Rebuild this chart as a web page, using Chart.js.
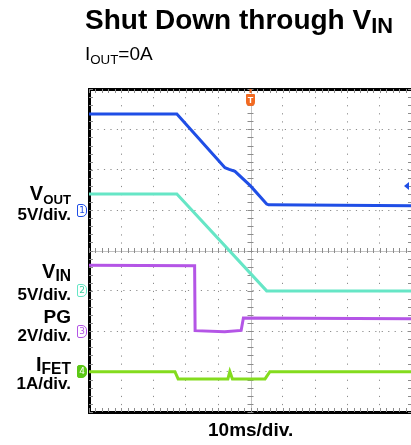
<!DOCTYPE html>
<html>
<head>
<meta charset="utf-8">
<script src="https://cdn.jsdelivr.net/npm/chart.js@4.4.0/dist/chart.umd.min.js"></script>
<style>
html, body { margin:0; padding:0; background:#fff; overflow:hidden; }
#wrap { position:relative; width:411px; height:445px; overflow:hidden; font-family:"Liberation Sans", Arial, Helvetica, sans-serif; color:#000; }
#scope { position:absolute; left:0; top:0; }
.t { position:absolute; white-space:nowrap; line-height:1; }
.lbl { position:absolute; right:340px; text-align:right; font-weight:bold; line-height:1; white-space:nowrap; }
sub { font-size:0.66em; vertical-align:baseline; position:relative; top:0.28em; }
.mk { position:absolute; left:77px; width:8px; height:11px; font-size:9px; line-height:11px; text-align:center; border:1px solid; border-radius:2px 5px 5px 2px; background:#fff; font-family:"DejaVu Sans", sans-serif; }
#trig { position:absolute; width:9px; height:12px; background:#f26a21; color:#fff; font-size:9px; line-height:12px; text-align:center; border-radius:1px 1px 4px 4px; font-weight:bold; }
</style>
</head>
<body>
<div id="wrap">
<canvas id="scope" width="420" height="445"></canvas>

<div class="t" style="left:85px; top:6px; font-size:28px; font-weight:bold;">Shut Down through V<sub style="font-size:0.78em; top:0.2em;">IN</sub></div>
<div class="t" style="left:85px; top:44px; font-size:19px;">I<sub style="font-size:0.7em;">OUT</sub>=0A</div>

<div class="lbl" style="top:183px; font-size:20px;">V<sub>OUT</sub></div>
<div class="lbl" style="top:206px; font-size:17px;">5V/div.</div>
<div class="lbl" style="top:261px; font-size:20px;">V<sub style="font-size:0.78em; top:0.22em;">IN</sub></div>
<div class="lbl" style="top:286px; font-size:17px;">5V/div.</div>
<div class="lbl" style="top:307px; font-size:19px;">PG</div>
<div class="lbl" style="top:327px; font-size:17px;">2V/div.</div>
<div class="lbl" style="top:354px; font-size:20px;">I<sub style="font-size:0.78em; top:0.22em;">FET</sub></div>
<div class="lbl" style="top:375px; font-size:17px;">1A/div.</div>

<div class="mk" id="mk1" style="color:#1f4ee6; border-color:#1f4ee6;">1</div>
<div class="mk" id="mk2" style="color:#3ccf9f; border-color:#66e6c6;">2</div>
<div class="mk" id="mk3" style="color:#b455e6; border-color:#b455e6;">3</div>
<div class="mk" id="mk4" style="color:#fff; border-color:#5cc816; background:#5cc816;">4</div>
<div id="trig">T</div>

<div class="t" style="left:208px; top:420px; font-size:19px; font-weight:bold;">10ms/div.</div>
</div>

<script>
// values (time in ms, 0 = trigger)
const voutTime = [-50, -22.8, -7.9, -6.6, -4.8, 0, 5.0, 5.6, 50];
const voutVolts = [11.9, 11.9, 5.25, 5.05, 4.8, 3.0, 0.75, 0.66, 0.55];
const vinTime = [-50, -22.8, 5.0, 50];
const vinVolts = [12.0, 12.0, 0, 0];
const pgTime = [-50, -17.3, -17.15, -8.0, -2.9, -2.2, 50];
const pgVolts = [3.27, 3.24, 0.03, -0.03, 0.04, 0.66, 0.62];
const ifetTime = [-50, -23.4, -22.4, -7.0, -6.4, -5.6, 4.5, 6.0, 50];
const ifetAmps = [0, 0, -0.18, -0.18, 0, -0.18, -0.18, 0, 0];
const trigLevel = 3.0;

// channel setup: units per division and ground position (divisions from center)
const chans = [
  {id: 'ch1', perDiv: 5, offset: 1, color: '#1f4ee6'},
  {id: 'ch2', perDiv: 5, offset: -1, color: '#66e6c6'},
  {id: 'ch3', perDiv: 2, offset: -2, color: '#b455e6'},
  {id: 'ch4', perDiv: 1, offset: -3, color: '#84dc1e'},
];

function pts(xs, ys) {
  return xs.map((x, i) => ({x: x, y: ys[i]}));
}

const gridGray = '#8c8c8c';

const scales = {
  x: {
    type: 'linear', min: -50, max: 50,
    ticks: {display: false, stepSize: 10},
    grid: {color: c => c.tick && c.tick.value === 0 ? 'rgba(0,0,0,0)' : gridGray, lineWidth: 1, drawTicks: false},
    border: {color: '#000', width: 3, dash: [1.2, 6.875]},
    afterFit: s => { s.height = 0; }
  },
  xTop: {
    type: 'linear', position: 'top', min: -50, max: 50,
    ticks: {display: false},
    grid: {display: false, drawTicks: false},
    border: {color: '#000', width: 3},
    afterFit: s => { s.height = 0; }
  },
  y: {
    type: 'linear', min: -4, max: 4,
    ticks: {display: false, stepSize: 1},
    grid: {color: c => c.tick && c.tick.value === 0 ? 'rgba(0,0,0,0)' : gridGray, lineWidth: 1, drawTicks: false},
    border: {color: '#000', width: 3, dash: [1.2, 5.26]},
    afterFit: s => { s.width = 0; }
  }
};
chans.forEach(ch => {
  scales[ch.id] = {
    type: 'linear', display: false,
    min: (-4 - ch.offset) * ch.perDiv,
    max: (4 - ch.offset) * ch.perDiv
  };
});

function trace(data, ch) {
  return {
    data: data, yAxisID: ch.id, xAxisID: 'x',
    borderColor: ch.color, borderWidth: 3,
    pointRadius: 0, tension: 0, fill: false
  };
}

// center cross, minor ticks and trigger level arrow
const scopeDecor = {
  id: 'scopeDecor',
  beforeDatasetsDraw(chart) {
    const ctx = chart.ctx;
    const a = chart.chartArea;
    const sx = chart.scales.x, sy = chart.scales.y;
    const x0 = sx.getPixelForValue(0), y0 = sy.getPixelForValue(0);
    ctx.save();
    ctx.strokeStyle = '#c4c4c4';
    ctx.lineWidth = 1;
    ctx.beginPath();
    ctx.moveTo(Math.round(x0) + 0.5, a.top); ctx.lineTo(Math.round(x0) + 0.5, a.bottom);
    ctx.moveTo(a.left, Math.round(y0) + 0.5); ctx.lineTo(a.right, Math.round(y0) + 0.5);
    ctx.stroke();
    ctx.strokeStyle = gridGray;
    ctx.beginPath();
    for (let t = -50; t <= 50; t += 2) {
      const px = Math.round(sx.getPixelForValue(t)) + 0.5;
      ctx.moveTo(px, y0 - 2.5); ctx.lineTo(px, y0 + 2.5);
      ctx.moveTo(px, a.top); ctx.lineTo(px, a.top + 4);
      ctx.moveTo(px, a.bottom); ctx.lineTo(px, a.bottom - 4);
    }
    for (let d = -40; d <= 40; d += 2) {
      const py = Math.round(sy.getPixelForValue(d / 10)) + 0.5;
      ctx.moveTo(x0 - 3, py); ctx.lineTo(x0 + 3, py);
      ctx.moveTo(a.left, py); ctx.lineTo(a.left + 4, py);
      ctx.moveTo(a.right, py); ctx.lineTo(a.right - 4, py);
    }
    ctx.stroke();
    ctx.restore();
  },
  afterDraw(chart) {
    const ctx = chart.ctx;
    const a = chart.chartArea;
    const x0 = chart.scales.x.getPixelForValue(0);
    const yl = chart.scales.ch1.getPixelForValue(trigLevel);
    ctx.save();
    ctx.fillStyle = '#1f4ee6';
    ctx.beginPath();
    ctx.moveTo(a.right - 8, yl); ctx.lineTo(a.right - 3, yl - 4); ctx.lineTo(a.right - 3, yl + 4);
    ctx.closePath(); ctx.fill();
    ctx.fillStyle = '#f26a21';
    ctx.fillRect(x0 - 1, a.top, 2, 4);
    ctx.restore();
  }
};

const chart = new Chart(document.getElementById('scope'), {
  type: 'line',
  data: {
    datasets: [
      trace(pts(voutTime, voutVolts), chans[0]),
      trace(pts(vinTime, vinVolts), chans[1]),
      trace(pts(pgTime, pgVolts), chans[2]),
      trace(pts(ifetTime, ifetAmps), chans[3]),
    ]
  },
  options: {
    responsive: false,
    animation: false,
    layout: {padding: {left: 89, top: 89, right: 8, bottom: 33}},
    plugins: {legend: {display: false}, tooltip: {enabled: false}},
    scales: scales
  },
  plugins: [scopeDecor]
});

// place channel ground markers and trigger marker from the scales
chans.forEach((ch, i) => {
  const el = document.getElementById('mk' + (i + 1));
  el.style.top = (chart.scales[ch.id].getPixelForValue(0) - 6.5) + 'px';
});
const trig = document.getElementById('trig');
trig.style.left = (chart.scales.x.getPixelForValue(0) - 4.5) + 'px';
trig.style.top = (chart.chartArea.top + 5) + 'px';
</script>
</body>
</html>
